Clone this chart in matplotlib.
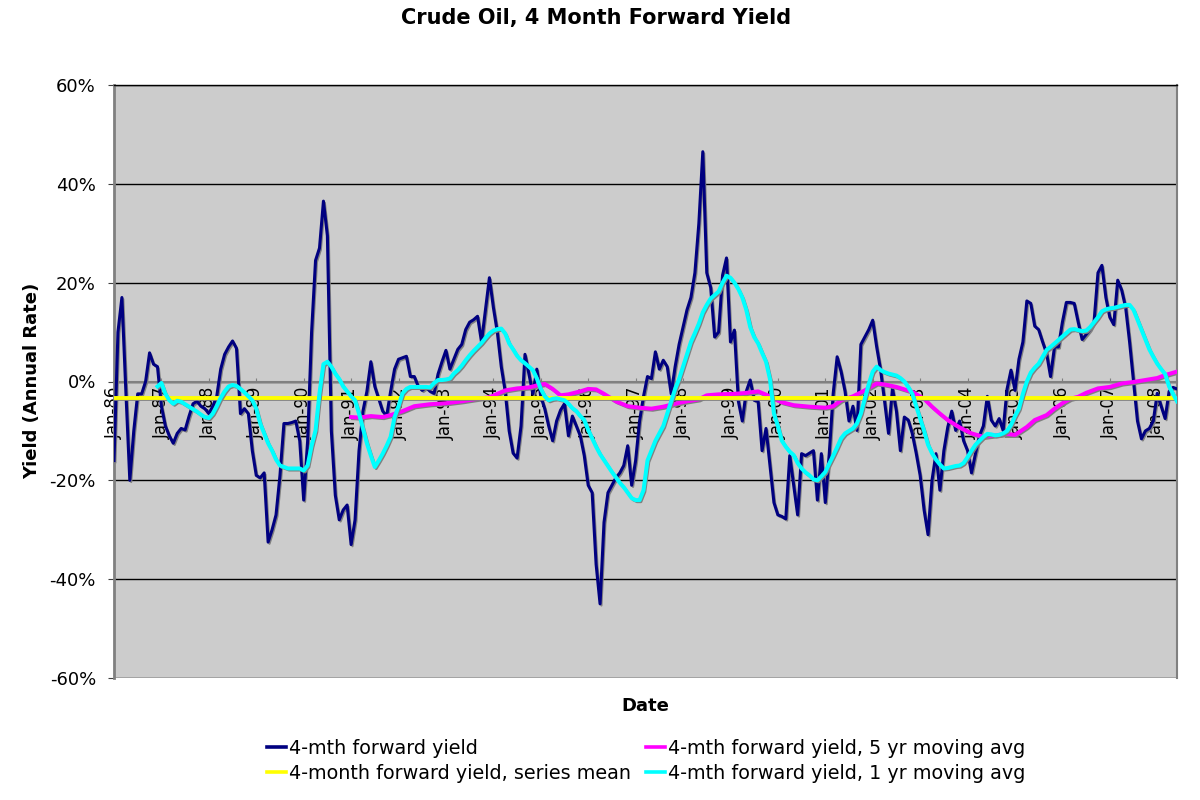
import matplotlib
matplotlib.use("Agg")
import matplotlib.pyplot as plt
import matplotlib.patheffects as pe
from matplotlib.lines import Line2D

# ---------------- data (monthly, month 0 = Jan-1986) ----------------
main_yield = [
    -16, 10, 17, -2, -20, -10, -2.5, -2.5, 0, 5.8, 3.5, 3.0,
    -5, -9, -11, -12.5, -10.5, -9.5, -9.8, -7, -4.5, -4, -5, -5.5,
    -6.5, -5, -3, 2.5, 5.5, 7, 8.2, 6.7, -6.5, -5.5, -6.5, -14,
    -19, -19.5, -18.5, -32.5, -30, -27, -19, -8.5, -8.5, -8.3, -8, -12,
    -24, -12, 10, 24.5, 27, 36.5, 29.5, -10, -23, -28, -26, -25,
    -33, -28, -14, -6, -2, 4, -1, -3.5, -6, -7, -2, 2.5,
    4.5, 4.8, 5.1, 1, 1, -1, -1.8, -1.2, -2, -2.4, 1.5, 4,
    6.3, 2.5, 4.5, 6.5, 7.5, 10.5, 12, 12.5, 13.2, 8, 14.5, 21,
    15, 10, 3, -2, -10, -14.5, -15.5, -9, 5.5, 1.5, -2.5, 2.5,
    -3, -5.5, -9, -12, -8, -5.8, -4.5, -11, -7, -9, -11, -15,
    -21, -22.5, -37, -45, -28.5, -22.5, -21, -19.5, -18.5, -17, -13, -21,
    -16, -8, -3, 1, 0.6, 6, 2.5, 4.3, 3, -2.5, 3, 7.5,
    11, 14.5, 17, 22, 32, 46.5, 22, 19, 9, 10, 21.5, 25,
    8, 10.4, -4, -8, -2, 0.3, -3.8, -4, -14, -9.5, -17, -24.5,
    -27, -27.3, -27.8, -15, -21, -27, -14.6, -15, -14.5, -14, -24, -14.6,
    -24.5, -14.6, -2.4, 5, 2, -2, -8, -5, -9.9, 7.5, 9, 10.5,
    12.4, 7, 2.3, -4, -10.5, -1.4, -6, -14, -7.2, -7.8, -10.5, -14.5,
    -19, -26, -31, -20, -14.6, -22, -14, -9.2, -6, -9.9, -8, -12,
    -14, -18.5, -14.6, -11, -9, -3, -7.8, -9, -7.5, -9.9, -1.5, 2.3,
    -1.8, 4.5, 8, 16.3, 15.8, 11.2, 10.5, 8, 5.7, 1, 7, 7,
    12, 16, 16, 15.8, 12, 8.5, 9.5, 10.5, 12, 22, 23.5, 17,
    13, 11.5, 20.5, 18.5, 15, 8, 0, -8, -11.6, -10, -9.5, -8,
    -2.4, -5, -7.5, -2, -1.2, -1.5,
]

ma1_start_month = 11
ma1_yield = [
    -1, -0.3, -2.5, -3.8, -4.5, -3.9, -4.1, -4.6, -5.1, -5.6, -6.1, -6.7,
    -7.2, -7.4, -6.5, -5, -3.3, -2, -1, -0.7, -0.9, -1.5, -2.2, -3,
    -3.8, -5.5, -8.5, -10.5, -12.5, -14, -15.8, -17, -17.3, -17.6, -17.6, -17.6,
    -17.6, -18, -17, -13, -9.9, -2.4, 3.5, 4, 3, 1.6, 0.5, -1,
    -2, -3, -3.8, -6.5, -9.5, -12.5, -15, -17.3, -16, -14.6, -13, -11.2,
    -7.2, -5, -2.4, -1.5, -1.1, -1.1, -1.1, -1.1, -1.1, -1.2, -0.3, 0.3,
    0.3, 0.4, 0.6, 1.6, 2.3, 3.2, 4.3, 5.3, 6.2, 7, 7.8, 8.8,
    9.7, 10.3, 10.6, 10.7, 9.7, 7.7, 6.5, 5.2, 4.3, 3.7, 3, 2.3,
    0.6, -1.5, -3, -3.8, -3.5, -3.4, -3.6, -3.8, -4.5, -5.4, -6, -7,
    -7.8, -9.8, -11.5, -13.2, -14.7, -15.9, -17.1, -18.3, -19.4, -20.5, -21.4, -22.5,
    -23.6, -24, -24, -22, -16, -14, -12, -10.5, -9, -6.5, -4, -1.5,
    0.5, 3, 5.5, 8, 9.8, 11.7, 14, 15.5, 16.8, 17.5, 18.2, 20,
    21.4, 21, 20, 18.7, 17, 14.5, 11, 9, 7.7, 5.8, 4, 0.5,
    -6.5, -9, -12, -13.2, -14.2, -14.9, -16.5, -17.6, -18.4, -19, -19.8, -20,
    -19.2, -18.3, -16.6, -15, -13.3, -11.5, -10.5, -10, -9.5, -8.5, -6.5, -3.5,
    -0.5, 2, 3, 2.3, 1.9, 1.6, 1.4, 1.2, 0.7, 0, -1.1, -2.5,
    -5, -7.5, -10, -12.8, -14.5, -15.8, -16.8, -17.6, -17.5, -17.3, -17.1, -17,
    -16.5, -15.3, -14, -12.8, -12, -11.2, -10.6, -10.7, -10.9, -10.8, -10.5, -10,
    -8.8, -7, -5.5, -2.5, 0, 1.8, 2.8, 3.6, 5, 6.4, 7, 7.7,
    8.4, 9.1, 9.8, 10.5, 10.6, 10.4, 10.2, 10.3, 11, 12, 13, 14.2,
    14.6, 14.8, 14.9, 15.1, 15.3, 15.5, 15.5, 14.5, 12.5, 10.5, 8.5, 6.5,
    5, 3.6, 2.5, 1.5, -1, -2.5, -4,
]

ma5_months = [60, 62, 65, 68, 70, 73, 76, 80, 84, 88, 92, 95, 97, 99, 102, 105,
              107, 109, 111, 113, 115, 118, 120, 122, 124, 127, 130, 133, 136,
              139, 142, 145, 148, 150, 153, 157, 160, 163, 166, 169, 172, 176,
              180, 182, 184, 187, 190, 193, 195, 198, 202, 205, 207, 209, 211,
              214, 217, 220, 223, 226, 228, 231, 233, 236, 238, 240, 242, 244,
              246, 249, 252, 255, 258, 261, 264, 266, 269]
ma5_yield = [-7.2, -7.3, -7, -7.2, -6.8, -6, -5, -4.6, -4.4, -4, -3.5, -3.2, -2.5,
             -1.8, -1.4, -1.2, -0.8, -0.5, -1.5, -2.8, -2.6, -2, -1.5, -1.6, -2.5,
             -4, -5, -5.3, -5.5, -5.1, -4.5, -4, -3.6, -2.8, -2.6, -2.5, -2.3, -2,
             -3, -4.2, -4.8, -5.1, -5.3, -5, -3.8, -3, -1.8, -0.4, -0.6, -1.1,
             -2.1, -3.5, -5.1, -6.5, -7.8, -9.3, -10.5, -11.2, -10.9, -10.6,
             -10.8, -9.2, -7.8, -6.8, -5.5, -4.4, -3.5, -3.1, -2.3, -1.4, -1.1,
             -0.4, -0.1, 0.3, 0.7, 1.3, 2.0]

series_mean = -3.3

tick_months = [0, 12, 24, 36, 48, 60, 72, 84, 96, 108, 120, 132, 144, 156,
               168, 180, 192, 204, 216, 228, 240, 252, 264]
tick_labels = ["Jan-86", "Jan-87", "Jan-88", "Jan-89", "Jan-90", "Jan-91",
               "Jan-92", "Jan-93", "Jan-94", "Jan-95", "Jan-96", "Jan-97",
               "Jan-98", "Jan-99", "Jan-00", "Jan-01", "Jan-02", "Jan-03",
               "Jan-04", "Jan-05", "Jan-06", "Jan-07", "Jan-08"]
y_ticks = [-60, -40, -20, 0, 20, 40, 60]

series_names = ["4-mth forward yield", "4-mth forward yield, 5 yr moving avg",
                "4-month forward yield, series mean", "4-mth forward yield, 1 yr moving avg"]
colors = ["#000080", "#FF00FF", "#FFFF00", "#00FFFF"]

# ---------------- figure ----------------
plt.rcParams["font.family"] = ["DejaVu Sans"]
fig = plt.figure(figsize=(12, 8), dpi=100)
ax = fig.add_axes([114 / 1200, 1 - 678 / 800, (1177 - 114) / 1200, (678 - 85) / 800])
ax.set_facecolor("#CCCCCC")

# move the category axis to cross at 0 first (this resets the ticks)
ax.spines["bottom"].set_position(("data", 0))


def shadow(lw):
    return [pe.SimpleLineShadow(offset=(1.0, -1.2), shadow_color="#808080",
                                alpha=1.0, linewidth=lw * 0.7), pe.Normal()]


main_x = list(range(len(main_yield)))
ma1_x = [ma1_start_month + i for i in range(len(ma1_yield))]
n_months = len(main_yield)

ax.plot(main_x, main_yield, color=colors[0], lw=2.2, zorder=3,
        path_effects=shadow(2.2), solid_joinstyle="round")
ax.plot(ma5_months, ma5_yield, color=colors[1], lw=2.9, zorder=4,
        path_effects=shadow(2.9), solid_joinstyle="round")
ax.plot([0, n_months - 1], [series_mean, series_mean], color=colors[2], lw=2.8,
        zorder=5, path_effects=shadow(2.8))
ax.plot(ma1_x, ma1_yield, color=colors[3], lw=2.9, zorder=6,
        path_effects=shadow(2.9), solid_joinstyle="round")

ax.set_xlim(0, n_months - 1)
ax.set_ylim(-60, 60)
ax.set_yticks(y_ticks)
ax.set_yticklabels([f"{v}%" for v in y_ticks], fontsize=13)
ax.set_xticks(tick_months)
ax.set_xticklabels(tick_labels, fontsize=12)
for lab in ax.get_xticklabels():
    lab.set_rotation(90)
    lab.set_va("top")
    lab.set_ha("center")

ax.set_axisbelow(True)
ax.yaxis.grid(True, color="black", lw=1.0)
ax.xaxis.grid(False)

ax.spines["bottom"].set_color("#808080")
ax.spines["bottom"].set_linewidth(1.5)
ax.spines["bottom"].set_zorder(1)
ax.spines["left"].set_color("#808080")
ax.spines["left"].set_linewidth(2)
ax.spines["right"].set_color("#808080")
ax.spines["right"].set_linewidth(1.5)
ax.spines["top"].set_color("black")
ax.spines["top"].set_linewidth(1.0)

ax.tick_params(axis="x", direction="in", length=3, color="#808080", pad=4)
ax.tick_params(axis="y", direction="out", length=4, color="#404040", pad=9)

fig.text(596 / 1200, 1 - 18 / 800, "Crude Oil, 4 Month Forward Yield",
         ha="center", va="center", fontsize=15, fontweight="bold")
fig.text(32 / 1200, 1 - 381 / 800, "Yield (Annual Rate)", rotation=90,
         ha="center", va="center", fontsize=13, fontweight="bold")
fig.text(645 / 1200, 1 - 706 / 800, "Date", ha="center", va="center",
         fontsize=13, fontweight="bold")

handles = [Line2D([], [], color=c, lw=2.6) for c in colors]
order = [0, 2, 1, 3]
fig.legend([handles[i] for i in order], [series_names[i] for i in order],
           ncol=2, loc="center", bbox_to_anchor=(646 / 1200, 1 - 761 / 800),
           frameon=False, fontsize=13.8, handlelength=1.0, handletextpad=0.15,
           columnspacing=0.8, labelspacing=0.3)

fig.savefig("out.png", dpi=100)
